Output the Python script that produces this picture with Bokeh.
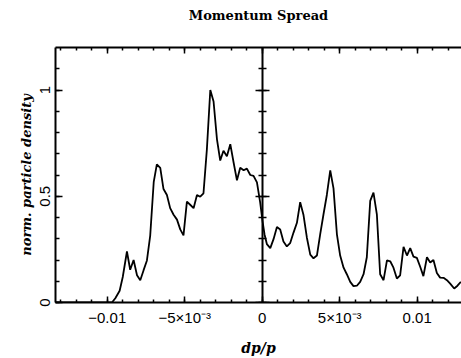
from bokeh.plotting import figure
from bokeh.models import LinearAxis, FixedTicker, Range1d
from bokeh.embed import file_html
from bokeh.resources import INLINE

# ---- data ----
dp = [-0.01334, -0.0115, -0.0100, -0.0097, -0.00948, -0.0092, -0.0090, -0.00873,
      -0.00852, -0.0083, -0.00808, -0.00787, -0.00766, -0.00744, -0.00723, -0.0070,
      -0.0068, -0.00658, -0.00637, -0.00615, -0.00594, -0.00572, -0.0055, -0.00529,
      -0.00508, -0.00486, -0.00465, -0.00443, -0.00421, -0.0040, -0.00379, -0.00357,
      -0.00335, -0.00314, -0.00292, -0.00271, -0.0025, -0.00228, -0.00206, -0.00185,
      -0.00163, -0.00142, -0.0012, -0.00099, -0.00077, -0.00056, -0.00034, -0.00013,
      0.00002, 0.00015, 0.0003, 0.00052, 0.00073, 0.00095, 0.00116, 0.00137, 0.00159,
      0.0018, 0.00202, 0.00224, 0.00245, 0.00266, 0.00288, 0.0031, 0.00331, 0.00353,
      0.00374, 0.00395, 0.00417, 0.00439, 0.0046, 0.00482, 0.00503, 0.00525, 0.00546,
      0.00568, 0.00589, 0.00611, 0.00632, 0.00654, 0.00675, 0.00697, 0.00718, 0.0074,
      0.00761, 0.00783, 0.00805, 0.00826, 0.00847, 0.00869, 0.0089, 0.00912, 0.00934,
      0.00955, 0.00976, 0.00998, 0.0102, 0.0104, 0.01063, 0.01084, 0.01105, 0.01127,
      0.01148, 0.0117, 0.01192, 0.01213, 0.01239, 0.0126, 0.01282]
density = [0.0, 0.0, 0.0, 0.0, 0.02, 0.055, 0.12, 0.24,
           0.154, 0.20, 0.128, 0.105, 0.151, 0.198, 0.313, 0.568,
           0.65, 0.634, 0.534, 0.506, 0.444, 0.413, 0.39, 0.344,
           0.316, 0.475, 0.46, 0.444, 0.506, 0.498, 0.514, 0.722,
           1.0, 0.946, 0.768, 0.668, 0.714, 0.688, 0.745, 0.66,
           0.575, 0.634, 0.622, 0.63, 0.6, 0.596, 0.565, 0.47,
           0.383, 0.32, 0.275, 0.256, 0.298, 0.355, 0.344, 0.287, 0.264,
           0.279, 0.329, 0.375, 0.472, 0.413, 0.306, 0.225, 0.208, 0.221,
           0.321, 0.413, 0.506, 0.622, 0.537, 0.321, 0.221, 0.164, 0.133,
           0.097, 0.077, 0.079, 0.097, 0.133, 0.213, 0.478, 0.517, 0.413,
           0.133, 0.105, 0.198, 0.194, 0.164, 0.113, 0.128, 0.262, 0.221,
           0.256, 0.216, 0.21, 0.167, 0.124, 0.213, 0.188, 0.2, 0.139,
           0.117, 0.116, 0.105, 0.089, 0.066, 0.079, 0.097]

title_text = "Momentum Spread"
x_ticks = [-0.01, -0.005, 0.0, 0.005, 0.01]
x_tick_labels = ["\u22120.01", "\u22125\u00d710\u207b\u00b3", "0", "5\u00d710\u207b\u00b3", "0.01"]
x_minor_ticks = [-0.013, -0.012, -0.011, -0.010, -0.009, -0.008, -0.007, -0.006,
                 -0.005, -0.004, -0.003, -0.002, -0.001, 0.0, 0.001, 0.002, 0.003,
                 0.004, 0.005, 0.006, 0.007, 0.008, 0.009, 0.010, 0.011, 0.012]
y_ticks = [0.0, 0.5, 1.0]
y_tick_labels = ["0", "0.5", "1"]
y_minor_ticks = [0.0, 0.1, 0.2, 0.3, 0.4, 0.5, 0.6, 0.7, 0.8, 0.9, 1.0, 1.1]

TICK_FONT = "Liberation Sans"
SERIF = "DejaVu Serif"

X_MIN, X_MAX, Y_MIN, Y_MAX = -0.01334, 0.01286, 0.0, 1.2

p = figure(width=461, height=358, output_backend="svg", toolbar_location=None,
           x_range=Range1d(X_MIN, X_MAX), y_range=Range1d(Y_MIN, Y_MAX),
           min_border_left=55, min_border_right=0, min_border_top=47, min_border_bottom=52)
p.outline_line_color = None
p.xgrid.visible = False
p.ygrid.visible = False
p.background_fill_color = "white"
p.border_fill_color = "white"

xt = FixedTicker(ticks=x_ticks, minor_ticks=x_minor_ticks)
yt = FixedTicker(ticks=y_ticks, minor_ticks=y_minor_ticks)

def style(ax, ticker, major_in, minor_in):
    ax.ticker = ticker
    ax.axis_line_width = 2
    ax.axis_line_color = "black"
    ax.major_tick_line_width = 1.5
    ax.minor_tick_line_width = 1.5
    ax.major_tick_in = major_in
    ax.major_tick_out = 0
    ax.minor_tick_in = minor_in
    ax.minor_tick_out = 0
    ax.major_label_text_color = "black"
    ax.axis_label_text_color = "black"

# bottom axis
xa = p.xaxis[0]
style(xa, xt, 6, 3)
xa.major_label_overrides = dict(zip(x_ticks, x_tick_labels))
xa.major_label_text_font = TICK_FONT
xa.major_label_text_font_size = "15px"
xa.major_label_standoff = 6
xa.axis_label = "dp/p"
xa.axis_label_text_font = SERIF
xa.axis_label_text_font_style = "bold italic"
xa.axis_label_text_font_size = "14px"
xa.axis_label_standoff = 11

# left axis
ya = p.yaxis[0]
style(ya, yt, 7, 4)
ya.major_label_overrides = dict(zip(y_ticks, y_tick_labels))
ya.major_label_orientation = "vertical"
ya.major_label_text_font = TICK_FONT
ya.major_label_text_font_size = "15px"
ya.major_label_standoff = 6
ya.axis_label = "norm. particle density"
ya.axis_label_text_font = SERIF
ya.axis_label_text_font_style = "bold italic"
ya.axis_label_text_font_size = "13px"
ya.axis_label_standoff = 3

# top axis (ticks only) carrying the chart title
top = LinearAxis()
style(top, xt, 6, 3)
top.major_label_overrides = {t: "" for t in x_ticks}
top.major_label_standoff = 0
top.axis_label = title_text
top.axis_label_text_font = SERIF
top.axis_label_text_font_style = "bold"
top.axis_label_text_font_size = "13px"
top.axis_label_standoff = 25
p.add_layout(top, "above")

# vertical axis at dp/p = 0 with ticks on both sides
mid = LinearAxis(fixed_location=0)
style(mid, yt, 7, 4)
mid.major_tick_out = 7
mid.minor_tick_out = 4
mid.major_label_overrides = {t: "" for t in y_ticks}
mid.major_label_standoff = 0
p.add_layout(mid, "right")

p.line(dp, density, line_color="black", line_width=1.8)

open("out.html", "w").write(file_html(p, INLINE))
